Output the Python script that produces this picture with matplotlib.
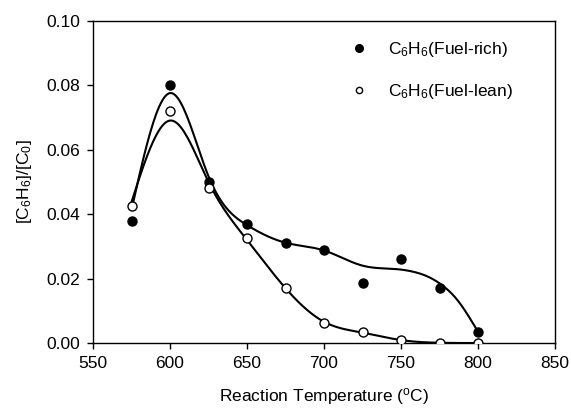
import numpy as np
import matplotlib
matplotlib.use("Agg")
import matplotlib.pyplot as plt
from matplotlib.lines import Line2D

# ---- data ----
temps = [575, 600, 625, 650, 675, 700, 725, 750, 775, 800]
rich = [0.038, 0.080, 0.050, 0.037, 0.031, 0.029, 0.0187, 0.026, 0.017, 0.0035]
lean = [0.0425, 0.072, 0.048, 0.0325, 0.017, 0.0063, 0.0035, 0.0008, 0.0001, 0.0]
label_rich = "C$_6$H$_6$(Fuel-rich)"
label_lean = "C$_6$H$_6$(Fuel-lean)"
xticks = [550, 600, 650, 700, 750, 800, 850]
yticks = [0.00, 0.02, 0.04, 0.06, 0.08, 0.10]

# smoothing-fit settings (point weights for the fitted curves)
rich_w = [0.3, 1, 1, 1, 1, 1, 0.05, 0.05, 0.02, 5]
lean_w = [1, 1, 1, 1, 1, 1, 1, 1, 1, 1]


def smooth(x, y, lam, w, relax_from=None, relax_scale=8.0):
    """Penalised (Whittaker / smoothing-spline) fit on a 1-degree grid."""
    g = np.arange(x[0], x[-1] + 1, 1.0)
    n = len(g)
    W = np.zeros(n)
    Y = np.zeros(n)
    for xi, yi, wi in zip(x, y, w):
        i = int(round(xi - g[0]))
        W[i] = wi
        Y[i] = yi
    D = np.diff(np.eye(n), 2, axis=0)
    s = np.ones(D.shape[0])
    if relax_from is not None:
        gm = g[1:-1]
        s = np.clip(np.exp(-(gm - relax_from) / relax_scale), 0.02, 1.0)
    P = D.T @ (s[:, None] * D)
    z = np.linalg.solve(np.diag(W) + lam * P, W * Y)
    return g, z


plt.rcParams['font.family'] = ['Liberation Sans', 'DejaVu Sans']
plt.rcParams['mathtext.default'] = 'regular'
plt.rcParams['font.size'] = 12.5

fig = plt.figure(figsize=(5.71, 4.08), dpi=100)
ax = fig.add_axes([93 / 571, 65 / 408, 462 / 571, 322 / 408])

gx, gr = smooth(temps, rich, 150, rich_w, relax_from=755, relax_scale=8.0)
ax.plot(gx, gr, color='black', lw=1.5, zorder=2)
gx, gl = smooth(temps, lean, 280, lean_w)
ax.plot(gx, gl, color='black', lw=1.5, zorder=2)

ax.plot(temps, rich, 'o', ls='none', color='black', ms=6.5, zorder=3)
ax.plot(temps, lean, 'o', ls='none', mfc='white', mec='black', mew=1.0,
        ms=6.5, zorder=3)

ax.set_xlim(550, 850)
ax.set_ylim(0, 0.10)
ax.set_xticks(xticks)
ax.set_yticks(yticks)
ax.set_yticklabels([f"{v:.2f}" for v in yticks])
ax.tick_params(direction='out', length=4, width=1, pad=5, top=False, right=False)
for sp in ax.spines.values():
    sp.set_linewidth(1.0)

ax.set_xlabel("Reaction Temperature ($^o$C)")
ax.set_ylabel("[C$_6$H$_6$]/[C$_0$]")
ax.xaxis.set_label_coords(0.5, -0.135)
ax.yaxis.set_label_coords(-0.128, 0.5)

handles = [
    Line2D([], [], ls='none', marker='o', color='black', ms=5.5),
    Line2D([], [], ls='none', marker='o', mfc='white', mec='black', mew=1.0, ms=4.5),
]
leg = ax.legend(handles, [label_rich, label_lean], loc='upper left',
                bbox_to_anchor=(0.56, 0.94),
                frameon=False, handlelength=0.8, handletextpad=1.3,
                labelspacing=1.3, borderpad=0, borderaxespad=0,
                numpoints=1)

fig.savefig("out.png", dpi=100)
